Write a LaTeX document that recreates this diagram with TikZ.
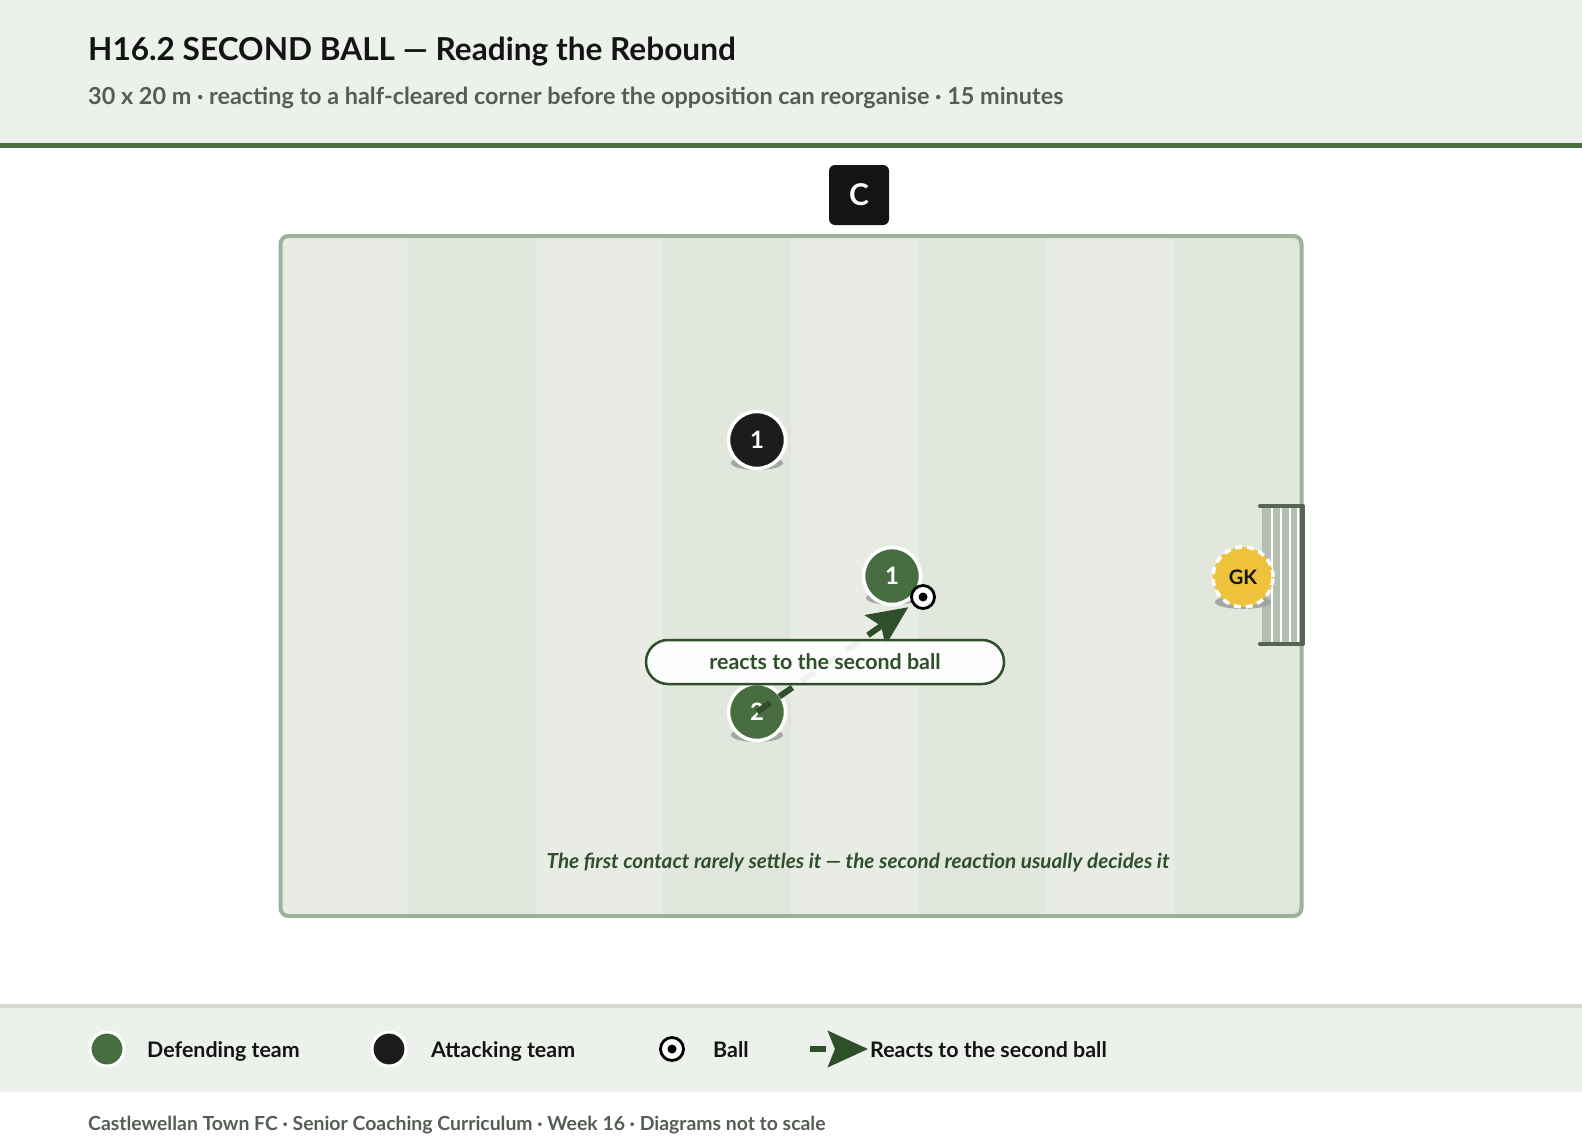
\documentclass[tikz,border=0pt]{standalone}
\usepackage{fontspec}
\setmainfont{Lato}
\usetikzlibrary{arrows.meta,shapes.geometric}
\definecolor{headerbg}{HTML}{EDF1EC}
\definecolor{headline}{HTML}{4A6E41}
\definecolor{titlecol}{HTML}{141414}
\definecolor{subcol}{HTML}{545E54}
\definecolor{stripeL}{HTML}{E8ECE5}
\definecolor{stripeD}{HTML}{E1E7DD}
\definecolor{pitchline}{HTML}{9DB29A}
\definecolor{defgreen}{HTML}{476D40}
\definecolor{attblack}{HTML}{1C1C1C}
\definecolor{gkyellow}{HTML}{EFC23B}
\definecolor{arrowgreen}{HTML}{2F4F2A}
\definecolor{shadowgray}{HTML}{9C9F9A}
\definecolor{goalpost}{HTML}{556455}
\definecolor{netfill}{HTML}{B4BFB2}
\definecolor{footline}{HTML}{D9D6CF}
\tikzset{
  player/.style={circle, draw=white, line width=3.5pt, minimum size=57pt, inner sep=0pt,
    text=white, font=\fontsize{24}{24}\selectfont\bfseries},
  defender/.style={player, fill=defgreen},
  attacker/.style={player, fill=attblack},
  keeper/.style={circle, fill=gkyellow, draw=white, line width=3.5pt, dash pattern=on 7pt off 5pt,
    minimum size=60pt, inner sep=0pt, text=titlecol, font=\fontsize{20}{20}\selectfont\bfseries},
  ballnode/.style={circle, fill=white, draw=black, line width=2.8pt, minimum size=23pt, inner sep=0pt},
  shadow/.style={fill=shadowgray, opacity=0.85},
  react/.style={draw=arrowgreen, line width=6pt, dash pattern=on 16pt off 11pt,
    -{Stealth[length=40pt,width=36pt,inset=7pt]}},
  calloutbox/.style={rounded corners=22pt, fill=white, fill opacity=0.93, text opacity=1,
    draw=arrowgreen, line width=2.5pt, minimum width=358pt, minimum height=44pt,
    text=arrowgreen, font=\fontsize{21.4}{22}\selectfont\bfseries},
  legtext/.style={anchor=base west, inner sep=0pt, text=titlecol, font=\fontsize{21.4}{22}\selectfont\bfseries},
  legdot/.style={circle, draw=white, line width=3pt, minimum size=34pt, inner sep=0pt},
}
\begin{document}
\begin{tikzpicture}[x=1pt,y=-1pt]
\useasboundingbox (0,0) rectangle (1582,1148);
\fill[white] (0,0) rectangle (1582,1148);
% header
\fill[headerbg] (0,0) rectangle (1582,143);
\fill[headline] (0,143) rectangle (1582,148);
\node[anchor=base west, inner sep=0pt, text=titlecol, font=\fontsize{31.6}{36}\selectfont\bfseries] (title) at (88,60)
  {H16.2 SECOND BALL — Reading the Rebound};
\node[anchor=base west, inner sep=0pt, text=subcol, font=\fontsize{23.4}{26}\selectfont\bfseries] (subtitle) at (88,104)
  {30 x 20 m · reacting to a half-cleared corner before the opposition can reorganise · 15 minutes};
% coach
\node[fill=titlecol, rounded corners=6pt, minimum size=60pt, inner sep=0pt, text=white,
  font=\fontsize{30}{30}\selectfont\bfseries] (coach) at (859,195) {C};
% pitch
\begin{scope}
\clip[rounded corners=8pt] (280.5,236) rectangle (1301.5,916);
\fill[stripeL] (280.5,236) rectangle (1301.5,916);
\foreach \i in {1,3,5,7} {
  \fill[stripeD] ({280.5+\i*127.625},236) rectangle ({280.5+(\i+1)*127.625},916);
}
\end{scope}
\draw[pitchline, line width=4pt, rounded corners=8pt] (280.5,236) rectangle (1301.5,916);
% goal
\fill[netfill] (1262,507) rectangle (1302,644);
\foreach \gx in {1272,1281,1290,1298} {
  \draw[white, line width=1.5pt] (\gx,507) -- (\gx,644);
}
\draw[goalpost, line width=4pt, line cap=round] (1260,506) -- (1303,506);
\draw[goalpost, line width=4pt, line cap=round] (1260,644) -- (1303,644);
\draw[goalpost, line width=5pt] (1302,506) -- (1302,644);
% shadows
\fill[shadow] (757,463) ellipse [x radius=26pt, y radius=7pt];
\fill[shadow] (892,598) ellipse [x radius=26pt, y radius=7pt];
\fill[shadow] (757,735) ellipse [x radius=26pt, y radius=7pt];
\fill[shadow] (1243,602) ellipse [x radius=28pt, y radius=7pt];
% players
\node[attacker] (a1) at (757,440) {1};
\node[defender] (d1) at (892,576) {1};
\node[defender] (d2) at (757,712) {2};
\node[keeper] (gk) at (1243,577) {GK};
\node[ballnode] (ball) at (923,597) {};
\fill[black] (ball.center) circle (4.5pt);
% arrow and callout
\draw[react, shorten >=5pt] (d2.center) -- (ball);
\node[calloutbox] (callout) at (825,662) {reacts to the second ball};
% note
\node[anchor=base, inner sep=0pt, text=arrowgreen, font=\fontsize{20.7}{22}\selectfont\bfseries\itshape] (note) at (858,868)
  {The first contact rarely settles it — the second reaction usually decides it};
% legend
\fill[footline] (0,1004) rectangle (1582,1008);
\fill[headerbg] (0,1008) rectangle (1582,1092);
\node[legdot, fill=defgreen] (ldef) at (107,1049) {};
\node[legtext] (tdef) at (147,1057) {Defending team};
\node[legdot, fill=attblack] (latt) at (389,1049) {};
\node[legtext] (tatt) at (431,1057) {Attacking team};
\node[ballnode] (lball) at (672,1049) {};
\fill[black] (lball.center) circle (4.5pt);
\node[legtext] (tball) at (713,1057) {Ball};
\coordinate (lastart) at (810,1049);
\coordinate (laend) at (868,1049);
\draw[react] (lastart) -- (laend);
\node[legtext] (treact) at (870,1057) {Reacts to the second ball};
% footer
\node[anchor=base west, inner sep=0pt, text=subcol, font=\fontsize{19.4}{20}\selectfont\bfseries] (footer) at (88,1130)
  {Castlewellan Town FC · Senior Coaching Curriculum · Week 16 · Diagrams not to scale};
\end{tikzpicture}
\end{document}
